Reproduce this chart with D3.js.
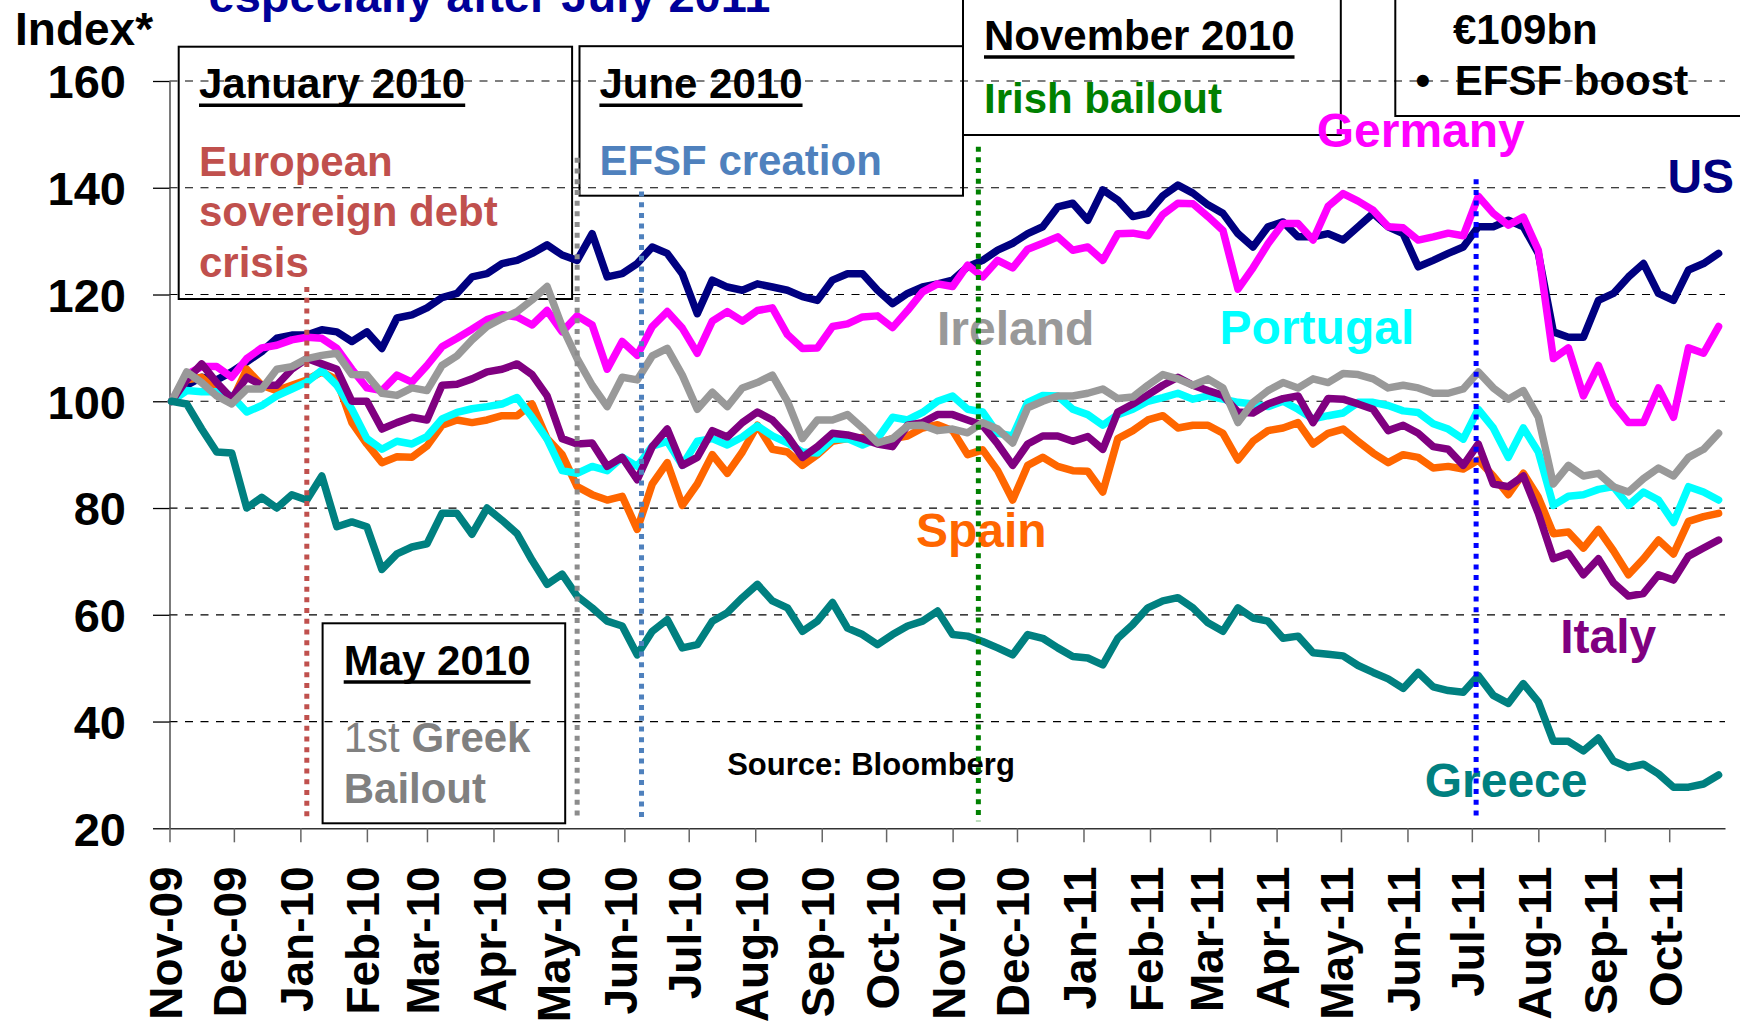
<!DOCTYPE html>
<html>
  <head>
    <meta charset="utf-8" />
    <script src="https://d3js.org/d3.v7.min.js"></script>
    <title>Equity indices, Nov-09 = 100</title>
    <style>
      body { margin: 0; background: #fff; }
      svg { display: block; font-family: 'Liberation Sans', Arial, sans-serif; font-weight: bold; }
    </style>
  </head>

  <body>
    <div id="chart"></div>
  </body>

  <script>
    // weekly readings (Mondays, 2 Nov 2009 .. 24 Oct 2011), index start = 100
    var us = [100, 103, 104.5, 104, 105.5, 107.4, 109.3, 111.8, 112.4, 112.4, 113.4, 113, 111.2, 113, 109.9, 115.6, 116.2, 117.5, 119.4, 120.2,
      123.3, 123.9, 125.8, 126.4, 127.7, 129.3, 127.4, 126.4, 131.4, 123.3, 123.9, 125.8, 128.9, 127.7, 123.9, 116.4, 122.7, 121.4, 120.8, 122,
      121.4, 120.8, 119.6, 118.9, 122.7, 123.9, 123.9, 120.8, 118.3, 120.2, 121.4, 122, 122.7, 125.2, 126.4, 128.3, 129.6, 131.4, 132.7, 136.4,
      137.1, 133.9, 139.6, 137.7, 134.6, 135.2, 138.5, 140.5, 139, 136.8, 135.2, 131.4, 128.9, 132.7, 133.6, 130.8, 130.8, 131.4, 130.2, 132.7,
      135.2, 132.7, 131.4, 125.2, 126.4, 127.7, 128.9, 132.7, 132.7, 133.9, 132.7, 127.7, 113, 112, 112, 118.9, 120.2, 123.3, 125.8, 120.2,
      118.9, 124.6, 125.8, 127.7];
    var germany = [100, 105, 106.5, 106.5, 104.5, 108, 110, 110.5, 111.5, 112, 111.8, 109.9, 106, 102.5, 102, 104.9, 103.6, 106.7, 110.2, 111.8,
      113.5, 115.3, 116.2, 115.8, 114.3, 117, 113, 116, 114.3, 106, 111.2, 108.6, 114, 116.8, 113.7, 109, 115, 116.8, 115, 117,
      117.5, 112.5, 109.9, 110, 114, 114.5, 115.8, 116, 113.8, 117, 120.5, 122, 121.5, 125.5, 123.3, 126.4, 125, 128.5, 129.6, 130.8,
      128.3, 128.9, 126.4, 131.4, 131.5, 131, 135, 137.1, 137, 134.6, 132, 121, 125, 129.5, 133.3, 133.3, 130.2, 136.5, 138.9, 137.5,
      135.8, 132.7, 132.5, 130.2, 130.8, 131.5, 131, 138.4, 135.2, 133, 134.5, 128.3, 108, 110, 101, 106.7, 99.5, 96, 96, 102.5,
      97, 110, 109, 114];
    var spain = [100, 104, 104.5, 102, 100, 106, 103, 102, 103, 104, 105.5, 104, 96, 92, 88.5, 89.6, 89.5, 91.6, 95.5, 96.5,
      96, 96.5, 97.3, 97.3, 99.5, 93, 90, 84, 82.5, 81.5, 82.2, 76, 84.5, 88.5, 80.5, 84.5, 90, 86.5, 90.5, 95.5,
      91, 90.5, 88, 90, 92.5, 93, 93.2, 92.2, 93, 93.5, 95, 95.6, 94.5, 90, 90.9, 87, 81.5, 88, 89.5, 87.8,
      87, 86.9, 83, 93, 94.5, 96.5, 97.3, 95, 95.5, 95.5, 94, 89, 92.5, 94.5, 95, 96, 92, 94, 94.8, 92.5,
      90.3, 88.5, 90, 89.5, 87.5, 87.8, 87.3, 89, 86, 82.5, 86.5, 82, 75.2, 75.5, 72.5, 76, 72, 67.5, 70.5, 74,
      71.4, 77.5, 78.4, 79];
    var portugal = [100, 102, 101.8, 101.8, 101, 98, 99.2, 101, 102.3, 103.6, 105.8, 103, 98.5, 93, 91, 92.5, 92, 93.4, 96.7, 97.9,
      98.6, 99, 99.5, 100.7, 97, 92.9, 87, 86.5, 87.8, 87, 89.5, 87.8, 91.6, 92.5, 88, 92.5, 93, 91.8, 93.3, 95.4,
      93.5, 92.2, 90.5, 90.3, 92.9, 93, 91.8, 93, 97, 96.5, 97.9, 100, 101, 98.5, 98, 94, 93.5, 99.8, 101.1, 101,
      98.5, 97.5, 95.5, 97.5, 98.5, 100, 100.7, 101.5, 100.4, 101, 100.4, 99.8, 99.5, 99, 100, 98.5, 96.7, 97.3, 97.8, 99.8,
      99.8, 99.2, 98.2, 97.9, 95.8, 94.8, 92.9, 98.5, 95, 89.5, 95, 90.5, 80.5, 82.2, 82.5, 83.5, 84, 80.5, 83, 81.5,
      77.3, 84, 83, 81.5];
    var italy = [100, 104, 107, 103.5, 100.5, 104.5, 103, 103, 106, 108, 107, 106, 100, 100, 94.8, 96, 97, 96.5, 103, 103.2,
      104.2, 105.5, 106, 107, 105, 101, 93, 92, 92.2, 87.8, 89.5, 85.3, 91.5, 94.8, 88, 89.5, 94.5, 93.3, 96, 98,
      96.5, 93.5, 89.5, 91.5, 94, 93.7, 93, 92, 91.5, 95.5, 96, 97.5, 97.5, 96.5, 95.5, 92, 88, 92, 93.5, 93.5,
      92.5, 93.4, 91, 98, 99.5, 101.2, 103, 104.5, 103, 102, 101.1, 98, 97.8, 99.5, 100.5, 101, 96, 100.5, 100.4, 99.5,
      98.5, 94.5, 95.5, 94, 91.5, 91, 88, 92, 84.5, 84, 86, 79, 70.5, 71.5, 67.5, 70.5, 66, 63.5, 64, 67.5,
      66.5, 71, 72.5, 74];
    var ireland = [100, 105.5, 103.5, 101, 99.5, 102.3, 102.3, 106, 106.5, 108, 108.6, 109, 105, 104.9, 101.5, 101.1, 102.5, 102, 106.7, 108.5,
      111.5, 114, 115.5, 116.8, 119, 121.5, 114, 108, 103, 99, 104.5, 104, 108.5, 109.9, 104.9, 98.5, 101.7, 99, 102.5, 103.5,
      104.9, 100, 93, 96.5, 96.5, 97.5, 95, 92.2, 93, 95.4, 95.5, 94.5, 94.8, 94.1, 96, 94.8, 92.2, 98.8, 100, 101,
      101, 101.5, 102.3, 100.5, 100.8, 103, 105, 104.2, 103, 104.2, 102.5, 96, 99.8, 102, 103.5, 102.5, 104.2, 103.5, 105.2, 105,
      104.2, 102.5, 103, 102.5, 101.5, 101.5, 102.3, 105.5, 102.5, 100.4, 102, 97, 84.5, 88, 86, 86.5, 84, 83, 85.5, 87.5,
      86, 89.5, 91, 94];
    var greece = [100, 99.5, 94.8, 90.5, 90.3, 80, 82, 80, 82.5, 81.5, 86, 76.5, 77.4, 76.5, 68.5, 71.4, 72.7, 73.3, 79, 79,
      75.1, 80, 77.7, 75.2, 70.2, 65.7, 67.6, 63.5, 61.3, 58.8, 57.9, 52.5, 56.9, 59.1, 53.8, 54.4, 58.8, 60.4, 63.2, 65.7,
      62.6, 61.3, 56.9, 58.8, 62.3, 57.5, 56.3, 54.4, 56.3, 57.9, 58.8, 60.7, 56.3, 56, 55, 53.8, 52.5, 56.3, 55.6, 53.8,
      52.2, 51.9, 50.6, 55.6, 58.2, 61.3, 62.6, 63.2, 61.3, 58.5, 56.9, 61.3, 59.4, 58.8, 55.6, 56, 52.9, 52.6, 52.3, 50.5,
      49.2, 48, 46.2, 49.2, 46.5, 45.8, 45.5, 48.6, 44.9, 43.4, 47.1, 43.7, 36.3, 36.3, 34.5, 36.9, 32.6, 31.4, 32, 30.2,
      27.7, 27.7, 28.3, 30];

    var seriesNames = ['US', 'Germany', 'Spain', 'Portugal', 'Italy', 'Ireland', 'Greece'];
    var seriesValues = [us, germany, spain, portugal, italy, ireland, greece];
    var seriesColors = ['#000080', '#FF00FF', '#FF6600', '#00FFFF', '#800080', '#999999', '#008080'];

    var yTicks = [20, 40, 60, 80, 100, 120, 140, 160];

    // event markers: date, top of the dotted line (index value), colour
    var eventDates = ['2010-01-04', '2010-05-10', '2010-06-09', '2010-11-13', '2011-07-03'];
    var eventTops = [121.4, 145.6, 139.3, 147.7, 141.6];
    var eventColors = ['#C0504D', '#8C8C8C', '#4F81BD', '#008000', '#0000FF'];

    var weeks = d3.timeMonday.range(new Date(2009, 10, 2), new Date(2011, 9, 25));

    var width = 1740,
      height = 1021;

    var svg = d3
      .select('#chart')
      .append('svg')
      .attr('width', width)
      .attr('height', height);

    var x = d3
      .scaleTime()
      .domain([new Date(2009, 10, 1), new Date(2011, 9, 27)])
      .range([169.5, 1725]);
    var y = d3.scaleLinear().domain([20, 160]).range([828.3, 81]);

    // title line, cut by the top edge as in the slide
    svg
      .append('text')
      .attr('x', 208.6)
      .attr('y', 11.5)
      .style('font-size', '47px')
      .style('fill', '#000099')
      .text('especially after July 2011');

    svg
      .append('text')
      .attr('x', 15)
      .attr('y', 45)
      .style('font-size', '46px')
      .text('Index*');

    // dashed gridlines
    svg
      .append('g')
      .selectAll('line')
      .data(yTicks.filter((d) => d > 20))
      .join('line')
      .attr('x1', x.range()[0])
      .attr('x2', x.range()[1])
      .attr('y1', (d) => y(d))
      .attr('y2', (d) => y(d))
      .attr('stroke', '#000')
      .attr('stroke-width', 1.2)
      .attr('stroke-dasharray', '8,7.5');

    // y axis
    var yAxis = svg
      .append('g')
      .attr('transform', 'translate(' + x.range()[0] + ',0)')
      .call(d3.axisLeft(y).tickValues(yTicks).tickSize(16.5).tickSizeOuter(0).tickPadding(27));
    yAxis.select('.domain').attr('stroke', '#333').attr('stroke-width', 1.3);
    yAxis.selectAll('.tick line').attr('stroke', '#000').attr('stroke-width', 1.3);
    yAxis
      .selectAll('text')
      .style('font-size', '47px')
      .style('font-family', "'Liberation Sans', Arial, sans-serif")
      .style('font-weight', 'bold')
      .attr('fill', '#000')
      .attr('dy', '0.36em');

    // x axis, month ticks with rotated labels
    var xAxis = svg
      .append('g')
      .attr('transform', 'translate(0,' + y(20) + ')')
      .call(
        d3
          .axisBottom(x)
          .ticks(d3.timeMonth.every(1))
          .tickFormat(d3.timeFormat('%b-%y'))
          .tickSize(14)
          .tickSizeOuter(0)
      );
    xAxis.select('.domain').attr('stroke', '#333').attr('stroke-width', 1.5);
    xAxis.selectAll('.tick line').attr('stroke', '#666').attr('stroke-width', 1.5);
    xAxis
      .selectAll('text')
      .style('font-size', '46px')
      .style('font-family', "'Liberation Sans', Arial, sans-serif")
      .style('font-weight', 'bold')
      .attr('fill', '#000')
      .attr('transform', 'rotate(-90)')
      .attr('text-anchor', 'end')
      .attr('x', -38)
      .attr('y', 12)
      .attr('dy', null);

    // annotation boxes
    var boxes = [
      [178.7, 46.7, 393.4, 252.3],
      [579.5, 46.2, 383.5, 149.5],
      [963, -5, 377.8, 140],
      [1395.3, -5, 360, 121],
      [322.6, 623.3, 242.6, 200],
    ];
    svg
      .append('g')
      .selectAll('rect')
      .data(boxes)
      .join('rect')
      .attr('x', (d) => d[0])
      .attr('y', (d) => d[1])
      .attr('width', (d) => d[2])
      .attr('height', (d) => d[3])
      .attr('fill', 'none')
      .attr('stroke', '#000')
      .attr('stroke-width', 2);

    function note(x0, y0, txt, color, underline) {
      var t = svg
        .append('text')
        .attr('x', x0)
        .attr('y', y0)
        .style('font-size', '42px')
        .style('fill', color)
        .text(txt);
      if (underline) {
        var w = t.node().getComputedTextLength();
        svg
          .append('line')
          .attr('x1', x0)
          .attr('x2', x0 + w)
          .attr('y1', y0 + 7)
          .attr('y2', y0 + 7)
          .attr('stroke', color)
          .attr('stroke-width', 3.6);
      }
      return t;
    }

    note(199, 98.3, 'January 2010', '#000', true);
    note(199, 175.7, 'European', '#C0504D');
    note(199, 226.2, 'sovereign debt', '#C0504D');
    note(199, 276.7, 'crisis', '#C0504D');

    note(599.4, 98.3, 'June 2010', '#000', true);
    note(599.4, 175, 'EFSF creation', '#4F81BD');

    note(984, 50, 'November 2010', '#000', true);
    note(984, 113, 'Irish bailout', '#008000');

    note(1453, 44, '\u20ac109bn', '#000');
    note(1422.8, 95, '\u2022', '#000').attr('text-anchor', 'middle');
    note(1454.8, 95, 'EFSF boost', '#000');

    note(343.7, 675, 'May 2010', '#000', true);
    var greek = note(343.7, 751.7, '', '#808080');
    greek.append('tspan').style('font-weight', 'normal').text('1st ');
    greek.append('tspan').text('Greek');
    note(343.7, 803, 'Bailout', '#808080');

    // series lines
    var line = d3
      .line()
      .x((d, i) => x(weeks[i]))
      .y((d) => y(d));

    svg
      .append('g')
      .selectAll('path')
      .data(seriesValues)
      .join('path')
      .attr('d', line)
      .attr('fill', 'none')
      .attr('stroke', (d, i) => seriesColors[i])
      .attr('stroke-width', 7.5)
      .attr('stroke-linejoin', 'round')
      .attr('stroke-linecap', 'round');

    // series labels
    var labelPos = [
      [1667.4, 193.3],
      [1316.7, 146.7],
      [915.9, 546.7],
      [1219.6, 344.3],
      [1560.2, 653.3],
      [937, 345],
      [1424.7, 796.7],
    ];
    svg
      .append('g')
      .selectAll('text')
      .data(seriesNames)
      .join('text')
      .attr('x', (d, i) => labelPos[i][0])
      .attr('y', (d, i) => labelPos[i][1])
      .style('font-size', '48px')
      .style('fill', (d, i) => seriesColors[i])
      .text((d) => d);

    svg
      .append('text')
      .attr('x', 727.2)
      .attr('y', 775)
      .style('font-size', '31px')
      .text('Source: Bloomberg');

    // dotted event lines drawn over everything
    var parse = d3.timeParse('%Y-%m-%d');
    svg
      .append('g')
      .selectAll('line')
      .data(eventDates)
      .join('line')
      .attr('x1', (d) => x(parse(d)))
      .attr('x2', (d) => x(parse(d)))
      .attr('y1', (d, i) => y(eventTops[i]))
      .attr('y2', y(21.3))
      .attr('stroke', (d, i) => eventColors[i])
      .attr('stroke-width', 5)
      .attr('stroke-dasharray', '5,5.7');
  </script>
</html>
